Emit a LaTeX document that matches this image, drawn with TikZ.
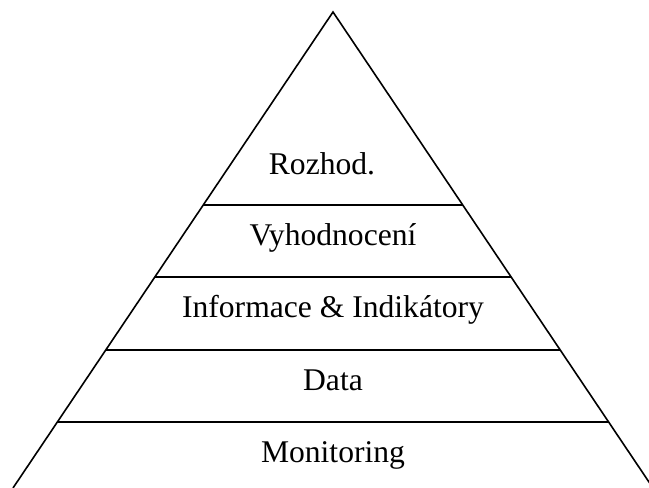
\documentclass[tikz,border=0pt]{standalone}
\usepackage{fontspec}
\setmainfont{Liberation Serif}
\usetikzlibrary{calc}

\tikzset{
    level/.style={anchor=base,font=\fontsize{15.8}{19}\selectfont},
    edge/.style={line width=0.8pt}
}

\begin{document}
\begin{tikzpicture}[x=0.5pt,y=-0.5pt]
    \useasboundingbox (0,0) rectangle (649,488);

    % Pyramid
    \coordinate (apex) at (333,12);
    \coordinate (bl) at (13,488);
    \coordinate (br) at (653,488);
    \draw[edge] (bl) -- (apex) -- (br);

    % Level borders
    \foreach \t [count=\i] in {0.4055,0.5567,0.7101,0.8613}{
        \coordinate (l\i) at ($(apex)!\t!(bl)$);
        \coordinate (r\i) at ($(apex)!\t!(br)$);
        \draw[edge] (l\i) -- (r\i);
    }

    % Labels
    \node[level] (rozhod) at (322,174) {Rozhod.};
    \node[level] (vyhod) at (333,245) {Vyhodnocení};
    \node[level] (info) at (333,317) {Informace \& Indikátory};
    \node[level] (data) at (333,390) {Data};
    \node[level] (monit) at (333,462) {Monitoring};
\end{tikzpicture}
\end{document}
